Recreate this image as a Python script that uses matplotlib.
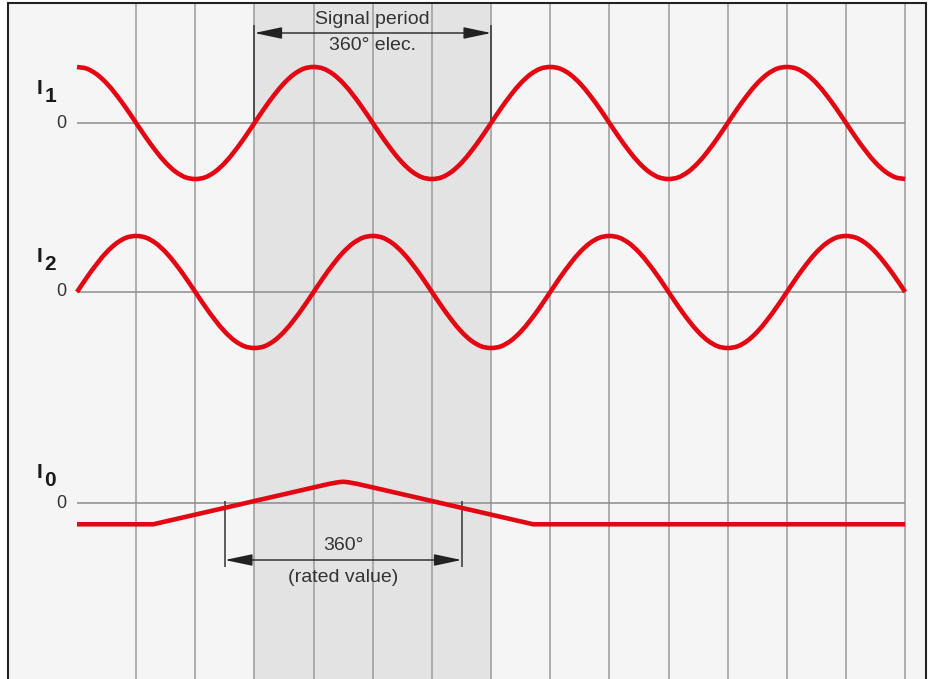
#
# incremental encoder output signals I1, I2 and reference mark I0
#

import numpy as np
import matplotlib.pyplot as plt
from matplotlib.patches import Rectangle, PathPatch
from matplotlib.path import Path

plt.rcParams["font.family"] = ["Liberation Sans", "DejaVu Sans"]

# signal samples (electrical degrees, read every 15 deg)
angle_deg = np.arange(0, 1261, 15)

i1_vals = [
	1.0, .97, .87, .71, .5, .26, 0, -.26, -.5, -.71, -.87, -.97,
	-1.0, -.97, -.87, -.71, -.5, -.26, 0, .26, .5, .71, .87, .97,
	1.0, .97, .87, .71, .5, .26, 0, -.26, -.5, -.71, -.87, -.97,
	-1.0, -.97, -.87, -.71, -.5, -.26, 0, .26, .5, .71, .87, .97,
	1.0, .97, .87, .71, .5, .26, 0, -.26, -.5, -.71, -.87, -.97,
	-1.0, -.97, -.87, -.71, -.5, -.26, 0, .26, .5, .71, .87, .97,
	1.0, .97, .87, .71, .5, .26, 0, -.26, -.5, -.71, -.87, -.97,
	-1.0 ]

i2_vals = [
	0, .26, .5, .71, .87, .97, 1.0, .97, .87, .71, .5, .26,
	0, -.26, -.5, -.71, -.87, -.97, -1.0, -.97, -.87, -.71, -.5, -.26,
	0, .26, .5, .71, .87, .97, 1.0, .97, .87, .71, .5, .26,
	0, -.26, -.5, -.71, -.87, -.97, -1.0, -.97, -.87, -.71, -.5, -.26,
	0, .26, .5, .71, .87, .97, 1.0, .97, .87, .71, .5, .26,
	0, -.26, -.5, -.71, -.87, -.97, -1.0, -.97, -.87, -.71, -.5, -.26,
	0, .26, .5, .71, .87, .97, 1.0, .97, .87, .71, .5, .26,
	0 ]

# reference mark signal
i0_deg = [ 0, 116, 383, 397, 405, 413, 427, 694, 1260 ]
i0_vals = [ -0.38, -0.38, 0.34, 0.37, 0.38, 0.37, 0.34, -0.38, -0.38 ]

grid_deg = [ 90, 180, 270, 360, 450, 540, 630, 720, 810, 900, 990, 1080, 1170, 1260 ]
period_span = [ 270, 630 ]
rated_span = [ 225, 585 ]

signal_names = [ "1", "2", "0" ]


# layout in pixels
W, H = 933, 679
x0_px, px_per_deg = 77., 0.6573
amp_px = 56.
zero_px = [ 123, 292, 503 ]
top_px = 3

red = "#e30613"
grid_col = "#9a9a9a"
txt_col = "#333333"


def px2deg(px):
	return (px - x0_px) / px_per_deg


def smooth_path(xs, ys):
	# cubic bezier path running through the sample points
	pts = np.column_stack([ xs, ys ]).astype(float)
	ext = np.vstack([ 2*pts[0] - pts[1], pts, 2*pts[-1] - pts[-2] ])
	verts = [ pts[0] ]
	codes = [ Path.MOVETO ]
	for i in range(len(pts) - 1):
		c1 = ext[i+1] + (ext[i+2] - ext[i]) / 6.
		c2 = ext[i+2] - (ext[i+3] - ext[i+1]) / 6.
		verts += [ c1, c2, pts[i+1] ]
		codes += [ Path.CURVE4 ]*3
	return Path(verts, codes)


fig = plt.figure(figsize=(W/100, H/100), dpi=100)
fig.patch.set_facecolor("white")
fig.patches.append(Rectangle((8/W, -0.02), (926-8)/W, (H-top_px)/H + 0.02,
	transform=fig.transFigure, facecolor="#f5f5f5", edgecolor="#222222",
	lw=1.5, zorder=-10))

ax = fig.add_axes([0, 0, 1, 1])
ax.set_zorder(1)
ax.set_facecolor("none")
ax.patch.set_alpha(0)
ax.set_xlim(px2deg(0), px2deg(W))
ax.set_ylim(H, 0)
ax.axis("off")

# shaded signal period and grid
ax.fill_between(period_span, top_px + 1, H + 5, color="#e3e3e3", lw=0, zorder=1)
ax.vlines(grid_deg, top_px + 1, H + 5, color=grid_col, lw=1.1, zorder=2)

# zero lines
for z in zero_px:
	ax.hlines(z, 0, 1260, color="#8c8c8c", lw=1.1, zorder=2)

# sine signals
for ys, z in zip([ i1_vals, i2_vals ], zero_px[:2]):
	path = smooth_path(angle_deg, z - amp_px*np.array(ys))
	ax.add_patch(PathPatch(path, facecolor="none", edgecolor=red, lw=3.3,
		capstyle="butt", joinstyle="round", zorder=4))

# reference mark
ax.plot(i0_deg, zero_px[2] - amp_px*np.array(i0_vals), color=red, lw=3.3,
	solid_capstyle="butt", solid_joinstyle="round", zorder=4)

# signal labels
label_off = [ 35, 35, 31 ]
for name, z, off in zip(signal_names, zero_px, label_off):
	ax.text(px2deg(37), z - off, "I", fontsize=15, fontweight="bold",
		color="#1a1a1a", ha="left", va="center", zorder=5)
	ax.text(px2deg(44.5), z - off + 8, name, fontsize=15, fontweight="bold",
		color="#1a1a1a", ha="left", va="center", zorder=5)
	ax.text(px2deg(66), z, "0", fontsize=13, color=txt_col,
		ha="right", va="center", zorder=5)

# dimension: signal period
arrow = dict(arrowstyle="<|-|>,head_length=0.85,head_width=0.18",
	color="#222222", lw=1, shrinkA=0, shrinkB=0, mutation_scale=20)
ax.vlines(period_span, 25, zero_px[0], color="#333333", lw=1.1, zorder=3)
ax.annotate("", xy=(period_span[0], 33), xytext=(period_span[1], 33),
	arrowprops=arrow, zorder=5)
mid = 0.5*(period_span[0] + period_span[1])
ax.text(mid, 20, "Signal period", fontsize=14, color=txt_col,
	ha="center", va="center", zorder=5)
ax.text(mid, 46, "360° elec.", fontsize=14, color=txt_col,
	ha="center", va="center", zorder=5)

# dimension: reference mark width
ax.vlines(rated_span, 501, 567, color="#333333", lw=1.1, zorder=3)
ax.annotate("", xy=(rated_span[0], 560), xytext=(rated_span[1], 560),
	arrowprops=arrow, zorder=5)
mid = 0.5*(rated_span[0] + rated_span[1])
ax.text(mid, 546, "360°", fontsize=14, color=txt_col,
	ha="center", va="center", zorder=5)
ax.text(mid, 577, "(rated value)", fontsize=14, color=txt_col,
	ha="center", va="center", zorder=5)

fig.savefig("out.png", dpi=100)
